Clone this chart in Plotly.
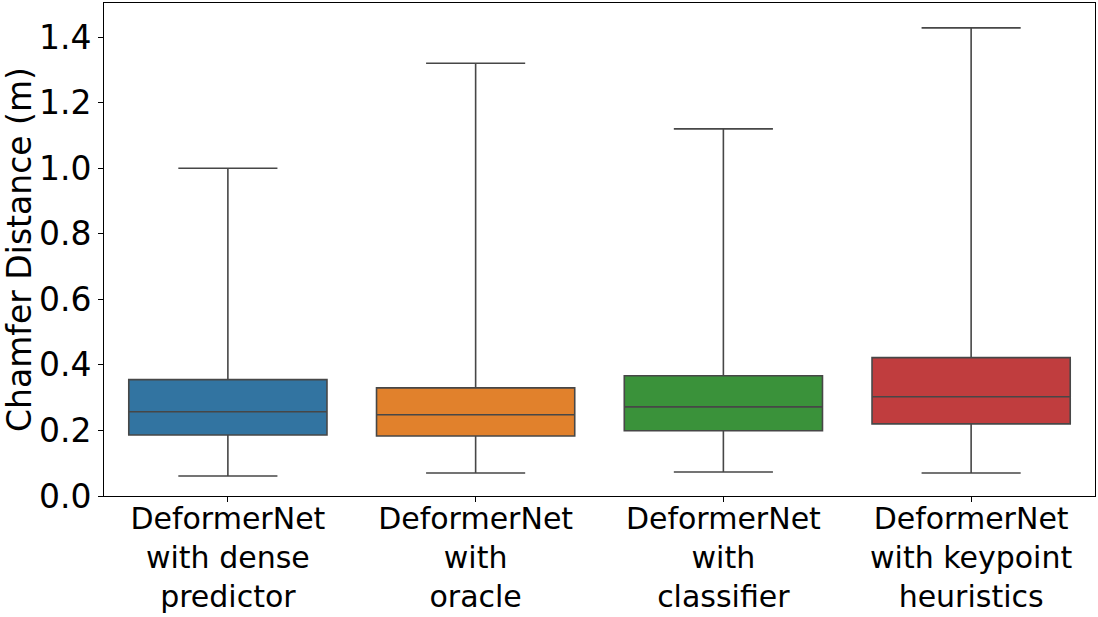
import plotly.graph_objects as go

categories = ["DeformerNet<br>with dense<br>predictor",
              "DeformerNet<br>with<br>oracle",
              "DeformerNet<br>with<br>classifier",
              "DeformerNet<br>with keypoint<br>heuristics"]
lower_whisker = [0.061, 0.070, 0.073, 0.070]
q1_values = [0.186, 0.183, 0.199, 0.220]
medians = [0.257, 0.248, 0.272, 0.303]
q3_values = [0.355, 0.330, 0.367, 0.422]
upper_whisker = [1.000, 1.320, 1.120, 1.428]
colors = ["#3274a1", "#e1812c", "#3a923a", "#c03d3e"]

fig = go.Figure()
for i, cat in enumerate(categories):
    fig.add_trace(go.Box(
        x=[cat], q1=[q1_values[i]], median=[medians[i]], q3=[q3_values[i]],
        lowerfence=[lower_whisker[i]], upperfence=[upper_whisker[i]],
        fillcolor=colors[i], line=dict(color="#474747", width=1.6),
        whiskerwidth=0.5, width=0.8, showlegend=False, boxpoints=False,
    ))

font = "DejaVu Sans, sans-serif"
fig.update_layout(
    width=1098, height=617,
    margin=dict(l=104, r=3, t=3, b=121, autoexpand=False),
    paper_bgcolor="white", plot_bgcolor="white",
    boxmode="overlay",
    font=dict(family=font, color="black", size=33),
    xaxis=dict(
        type="category", categoryorder="array", categoryarray=categories,
        range=[-0.5, 3.5], showline=True, linecolor="black", linewidth=1,
        mirror=True, ticks="outside", ticklen=5, tickcolor="black",
        automargin=False, ticklabelstandoff=-9,
        tickfont=dict(size=30, family=font, color="black"), showgrid=False,
    ),
    yaxis=dict(
        range=[0, 1.504], dtick=0.2, tick0=0, tickformat=".1f",
        showline=True, linecolor="black", linewidth=1, mirror=True,
        ticks="outside", ticklen=5, tickcolor="black", showgrid=False,
        zeroline=False, automargin=False,
        tickfont=dict(size=33, family=font, color="black"),
        title=dict(text="Chamfer Distance (m)", font=dict(size=33, family=font, color="black"), standoff=8),
    ),
)

fig.write_html("out.html", config={"displayModeBar": False})

# remove the browser's default page margin so the figure sits at the window origin
with open("out.html", "r", encoding="utf-8") as f:
    html = f.read()
html = html.replace("<head>", "<head><style>html,body{margin:0;padding:0;overflow:hidden;}</style>", 1)
with open("out.html", "w", encoding="utf-8") as f:
    f.write(html)
